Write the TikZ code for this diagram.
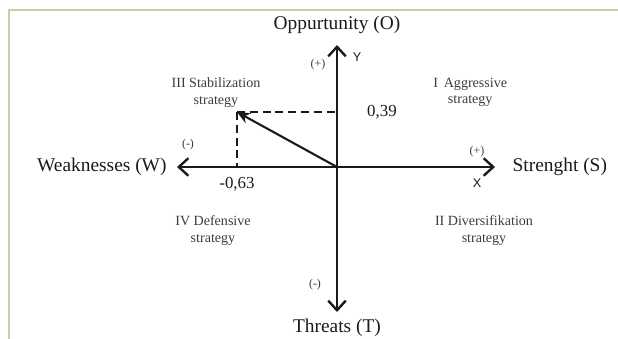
\documentclass[tikz,border=0pt]{standalone}
\usepackage{fontspec}
\setmainfont{Liberation Serif}
\newfontfamily\axisfont{Liberation Sans}
\usetikzlibrary{arrows.meta,positioning}
\definecolor{frame}{HTML}{D3CAA2}
\definecolor{ink}{HTML}{1A1A1A}
\definecolor{soft}{HTML}{3C3C3C}
\tikzset{
  axis/.style={-{Straight Barb[length=2.4mm,width=4.4mm,line width=1.7pt]}, line width=1.5pt, draw=ink},
  vector/.style={-{Stealth[length=3.2mm,width=2.8mm]}, line width=1.5pt, draw=ink},
  guide/.style={dash pattern=on 0.2cm off 0.12cm, line width=1.4pt, draw=ink},
  axislabel/.style={font=\fontsize{13.8}{15}\selectfont, text=ink, inner sep=1pt},
  quadrant/.style={font=\fontsize{10}{11.5}\selectfont, text=soft, align=center, inner sep=1pt},
  signlabel/.style={font=\fontsize{8.5}{10}\selectfont, text=soft, inner sep=1pt},
  valuelabel/.style={font=\fontsize{12}{14}\selectfont, text=ink, inner sep=1pt},
  letterlabel/.style={font=\axisfont\fontsize{9}{10}\selectfont, text=ink, inner sep=1pt}
}
\begin{document}
\begin{tikzpicture}[x=1cm,y=1cm]
        \useasboundingbox (-8.425,-4.275) rectangle (7.025,4.175);
        \draw[frame,line width=0.05cm] (-8.2,-4.4) -- (-8.2,3.925) -- (7.2,3.925);
        % axes
        \coordinate (o) at (0,0);
        \coordinate (wtip) at (-4.0,0);
        \coordinate (stip) at (3.95,0);
        \coordinate (otip) at (0,3.05);
        \coordinate (ttip) at (0,-3.625);
        \draw[axis] (o) -- (wtip);
        \draw[axis] (o) -- (stip);
        \draw[axis] (o) -- (otip);
        \draw[axis] (o) -- (ttip);
        \node[axislabel,left=0.22cm of wtip] (weak) {Weaknesses (W)};
        \node[axislabel,right=0.4cm of stip] (strong) {Strenght (S)};
        \node[axislabel] (opp) at (0,3.55) {Oppurtunity (O)};
        \node[axislabel] (threat) at (0,-4.02) {Threats (T)};
        % signs and axis letters
        \node[signlabel] (wsign) at (-3.725,0.55) {(-)};
        \node[signlabel] (ssign) at (3.5,0.375) {(+)};
        \node[signlabel] (osign) at (-0.475,2.55) {(+)};
        \node[signlabel] (tsign) at (-0.55,-2.95) {(-)};
        \node[letterlabel] (xname) at (3.5,-0.4) {X};
        \node[letterlabel] (yname) at (0.5,2.75) {Y};
        % position of the strategy
        \coordinate (p) at (-2.5,1.375);
        \draw[guide] (p) -- (p -| o);
        \draw[guide] (p) -- (p |- o);
        \draw[vector] (o) -- (p);
        \node[valuelabel] (yval) at (1.125,1.375) {0,39};
        \node[valuelabel] (xval) at (-2.5,-0.42) {-0,63};
        % quadrants
        \node[quadrant] (q3) at (-3.025,1.86) {III Stabilization\\strategy};
        \node[quadrant] (q1) at (3.33,1.86) {I\, Aggressive\\strategy};
        \node[quadrant] (q4) at (-3.1,-1.59) {IV Defensive\\strategy};
        \node[quadrant] (q2) at (3.675,-1.59) {II Diversifikation\\strategy};
      \end{tikzpicture}
\end{document}
